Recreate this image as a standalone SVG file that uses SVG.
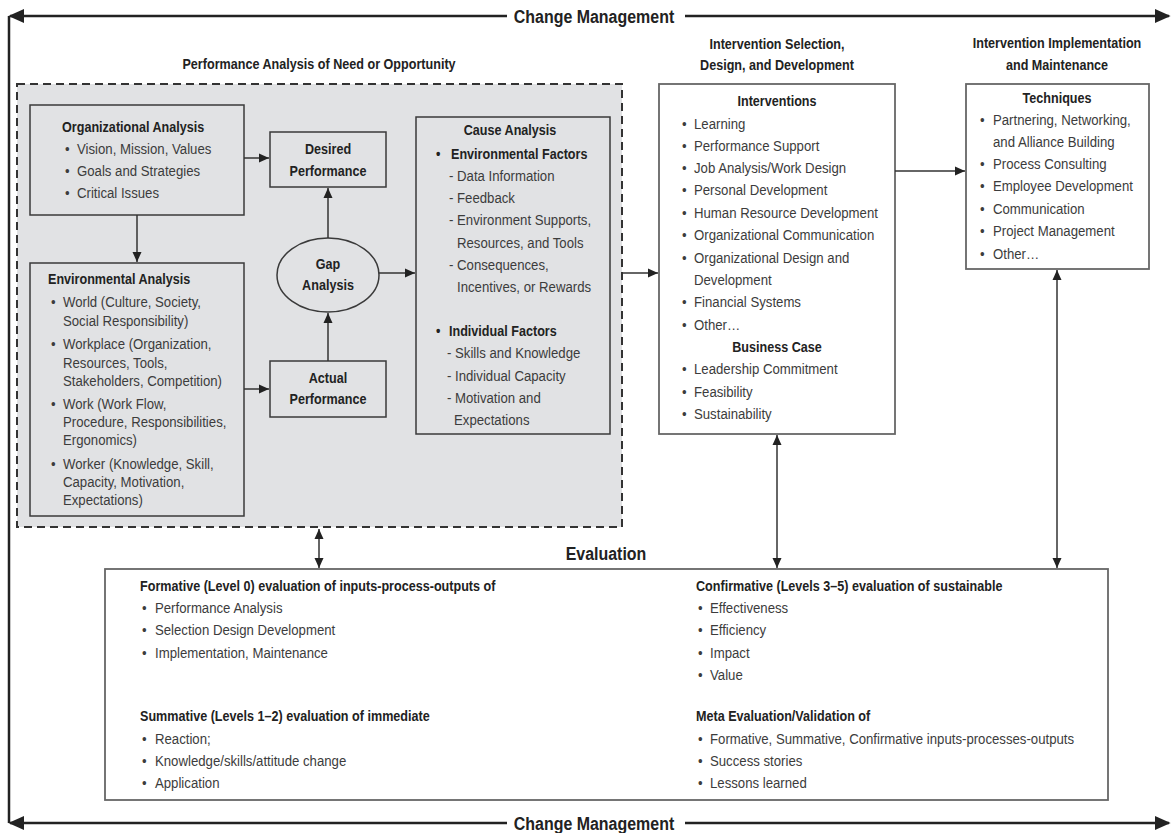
<svg xmlns="http://www.w3.org/2000/svg" width="1172" height="833" viewBox="0 0 1172 833">
<defs>
<style>
.t{font-family:"Liberation Sans",Arial,sans-serif;font-size:15px;fill:#3c3c3c;transform-box:fill-box;transform-origin:0 0;transform:scaleX(0.88)}
.b{font-weight:bold;fill:#222;transform:scaleX(0.84)}
.c{text-anchor:middle;transform-origin:50% 0}
.h{font-size:19px}
.box{fill:#e1e2e4;stroke:#3a3a3a;stroke-width:1.5}
.wbox{fill:#fff;stroke:#666;stroke-width:1.8}
.ln{stroke:#333;stroke-width:1.5;fill:none}
.fr{stroke:#222;stroke-width:2.5;fill:none}
</style>
<marker id="ah" viewBox="0 0 10 10" refX="10" refY="5" markerWidth="10" markerHeight="10" markerUnits="userSpaceOnUse" orient="auto-start-reverse"><path d="M0,0.5 L10,5 L0,9.5 z" fill="#222"/></marker>
<marker id="bh" viewBox="0 0 10 10" refX="9" refY="5" markerWidth="16" markerHeight="16" markerUnits="userSpaceOnUse" orient="auto-start-reverse"><path d="M0,0.5 L10,5 L0,9.5 z" fill="#222"/></marker>
</defs>
<rect width="1172" height="833" fill="#fff"/>

<g id="frame">
<path class="fr" d="M9,16 V823"/>
<path class="fr" d="M507,16 H10" marker-end="url(#bh)"/>
<path class="fr" d="M685,16 H1169" marker-end="url(#bh)"/>
<path class="fr" d="M507,823 H10" marker-end="url(#bh)"/>
<path class="fr" d="M685,823 H1169" marker-end="url(#bh)"/>
<text class="t b c h" x="594" y="23">Change Management</text>
<text class="t b c h" x="594" y="830">Change Management</text>
</g>

<g id="performance-analysis">
<rect x="17" y="84" width="605" height="443" fill="#e1e2e4" stroke="#333" stroke-width="2" stroke-dasharray="8,5"/>
<text class="t b c" x="319" y="69">Performance Analysis of Need or Opportunity</text>
</g>

<g id="organizational-analysis">
<rect class="box" x="30" y="105" width="214" height="110"/>
<text class="t b" x="62" y="132">Organizational Analysis</text>
<text class="t" x="65" y="154">•</text><text class="t" x="77" y="154">Vision, Mission, Values</text>
<text class="t" x="65" y="176">•</text><text class="t" x="77" y="176">Goals and Strategies</text>
<text class="t" x="65" y="198">•</text><text class="t" x="77" y="198">Critical Issues</text>
</g>

<g id="environmental-analysis">
<rect class="box" x="30" y="263" width="214" height="253"/>
<text class="t b" x="48" y="284">Environmental Analysis</text>
<text class="t" x="51" y="307">•</text><text class="t" x="63" y="307">World (Culture, Society,</text>
<text class="t" x="63" y="326">Social Responsibility)</text>
<text class="t" x="51" y="349">•</text><text class="t" x="63" y="349">Workplace (Organization,</text>
<text class="t" x="63" y="368">Resources, Tools,</text>
<text class="t" x="63" y="386">Stakeholders, Competition)</text>
<text class="t" x="51" y="409">•</text><text class="t" x="63" y="409">Work (Work Flow,</text>
<text class="t" x="63" y="427">Procedure, Responsibilities,</text>
<text class="t" x="63" y="445">Ergonomics)</text>
<text class="t" x="51" y="469">•</text><text class="t" x="63" y="469">Worker (Knowledge, Skill,</text>
<text class="t" x="63" y="487">Capacity, Motivation,</text>
<text class="t" x="63" y="505">Expectations)</text>
</g>

<g id="desired-performance">
<rect class="box" x="270" y="132" width="116" height="55"/>
<text class="t b c" x="328" y="154">Desired</text>
<text class="t b c" x="328" y="176">Performance</text>
</g>

<g id="gap-analysis">
<ellipse class="box" cx="328" cy="275" rx="51" ry="37"/>
<text class="t b c" x="328" y="269">Gap</text>
<text class="t b c" x="328" y="290">Analysis</text>
</g>

<g id="actual-performance">
<rect class="box" x="270" y="361" width="116" height="56"/>
<text class="t b c" x="328" y="383">Actual</text>
<text class="t b c" x="328" y="404">Performance</text>
</g>

<g id="cause-analysis">
<rect class="box" x="416" y="117" width="194" height="317"/>
<text class="t b c" x="510" y="135">Cause Analysis</text>
<text class="t b" x="436" y="159">•</text><text class="t b" x="451" y="159">Environmental Factors</text>
<text class="t" x="449" y="181">- Data Information</text>
<text class="t" x="449" y="203">- Feedback</text>
<text class="t" x="449" y="225">- Environment Supports,</text>
<text class="t" x="457" y="248">Resources, and Tools</text>
<text class="t" x="449" y="270">- Consequences,</text>
<text class="t" x="457" y="292">Incentives, or Rewards</text>
<text class="t b" x="436" y="336">•</text><text class="t b" x="449" y="336">Individual Factors</text>
<text class="t" x="447" y="358">- Skills and Knowledge</text>
<text class="t" x="447" y="381">- Individual Capacity</text>
<text class="t" x="447" y="403">- Motivation and</text>
<text class="t" x="454" y="425">Expectations</text>
</g>

<g id="interventions">
<text class="t b c" x="777" y="49">Intervention Selection,</text>
<text class="t b c" x="777" y="70">Design, and Development</text>
<rect class="wbox" x="659" y="84" width="236" height="350"/>
<text class="t b c" x="777" y="106">Interventions</text>
<text class="t" x="682" y="129">•</text><text class="t" x="694" y="129">Learning</text>
<text class="t" x="682" y="151">•</text><text class="t" x="694" y="151">Performance Support</text>
<text class="t" x="682" y="173">•</text><text class="t" x="694" y="173">Job Analysis/Work Design</text>
<text class="t" x="682" y="195">•</text><text class="t" x="694" y="195">Personal Development</text>
<text class="t" x="682" y="218">•</text><text class="t" x="694" y="218">Human Resource Development</text>
<text class="t" x="682" y="240">•</text><text class="t" x="694" y="240">Organizational Communication</text>
<text class="t" x="682" y="263">•</text><text class="t" x="694" y="263">Organizational Design and</text>
<text class="t" x="694" y="285">Development</text>
<text class="t" x="682" y="307">•</text><text class="t" x="694" y="307">Financial Systems</text>
<text class="t" x="682" y="330">•</text><text class="t" x="694" y="330">Other…</text>
<text class="t b c" x="777" y="352">Business Case</text>
<text class="t" x="682" y="374">•</text><text class="t" x="694" y="374">Leadership Commitment</text>
<text class="t" x="682" y="397">•</text><text class="t" x="694" y="397">Feasibility</text>
<text class="t" x="682" y="419">•</text><text class="t" x="694" y="419">Sustainability</text>
</g>

<g id="techniques">
<text class="t b c" x="1057" y="48">Intervention Implementation</text>
<text class="t b c" x="1057" y="70">and Maintenance</text>
<rect class="wbox" x="966" y="84" width="183" height="185"/>
<text class="t b c" x="1057" y="103">Techniques</text>
<text class="t" x="980" y="125">•</text><text class="t" x="993" y="125">Partnering, Networking,</text>
<text class="t" x="993" y="147">and Alliance Building</text>
<text class="t" x="980" y="169">•</text><text class="t" x="993" y="169">Process Consulting</text>
<text class="t" x="980" y="191">•</text><text class="t" x="993" y="191">Employee Development</text>
<text class="t" x="980" y="214">•</text><text class="t" x="993" y="214">Communication</text>
<text class="t" x="980" y="236">•</text><text class="t" x="993" y="236">Project Management</text>
<text class="t" x="980" y="259">•</text><text class="t" x="993" y="259">Other…</text>
</g>

<g id="evaluation">
<text class="t b c h" x="606" y="560">Evaluation</text>
<rect class="wbox" x="105" y="569" width="1003" height="231"/>
<text class="t b" x="140" y="591">Formative (Level 0) evaluation of inputs-process-outputs of</text>
<text class="t" x="142" y="613">•</text><text class="t" x="155" y="613">Performance Analysis</text>
<text class="t" x="142" y="635">•</text><text class="t" x="155" y="635">Selection Design Development</text>
<text class="t" x="142" y="658">•</text><text class="t" x="155" y="658">Implementation, Maintenance</text>
<text class="t b" x="140" y="721">Summative (Levels 1–2) evaluation of immediate</text>
<text class="t" x="142" y="744">•</text><text class="t" x="155" y="744">Reaction;</text>
<text class="t" x="142" y="766">•</text><text class="t" x="155" y="766">Knowledge/skills/attitude change</text>
<text class="t" x="142" y="788">•</text><text class="t" x="155" y="788">Application</text>
<text class="t b" x="696" y="591">Confirmative (Levels 3–5) evaluation of sustainable</text>
<text class="t" x="698" y="613">•</text><text class="t" x="710" y="613">Effectiveness</text>
<text class="t" x="698" y="635">•</text><text class="t" x="710" y="635">Efficiency</text>
<text class="t" x="698" y="658">•</text><text class="t" x="710" y="658">Impact</text>
<text class="t" x="698" y="680">•</text><text class="t" x="710" y="680">Value</text>
<text class="t b" x="696" y="721">Meta Evaluation/Validation of</text>
<text class="t" x="698" y="744">•</text><text class="t" x="710" y="744">Formative, Summative, Confirmative inputs-processes-outputs</text>
<text class="t" x="698" y="766">•</text><text class="t" x="710" y="766">Success stories</text>
<text class="t" x="698" y="788">•</text><text class="t" x="710" y="788">Lessons learned</text>
</g>

<g id="connectors">
<path class="ln" d="M137,215 V262" marker-end="url(#ah)"/>
<path class="ln" d="M244,158 H269" marker-end="url(#ah)"/>
<path class="ln" d="M244,389 H269" marker-end="url(#ah)"/>
<path class="ln" d="M328,238 V188" marker-end="url(#ah)"/>
<path class="ln" d="M328,361 V313" marker-end="url(#ah)"/>
<path class="ln" d="M379,273 H415" marker-end="url(#ah)"/>
<path class="ln" d="M622,273 H658" marker-end="url(#ah)"/>
<path class="ln" d="M895,171 H965" marker-end="url(#ah)"/>
<path class="ln" d="M319,529 V568" marker-start="url(#ah)" marker-end="url(#ah)"/>
<path class="ln" d="M777,435 V568" marker-start="url(#ah)" marker-end="url(#ah)"/>
<path class="ln" d="M1057,270 V568" marker-start="url(#ah)" marker-end="url(#ah)"/>
</g>
</svg>
